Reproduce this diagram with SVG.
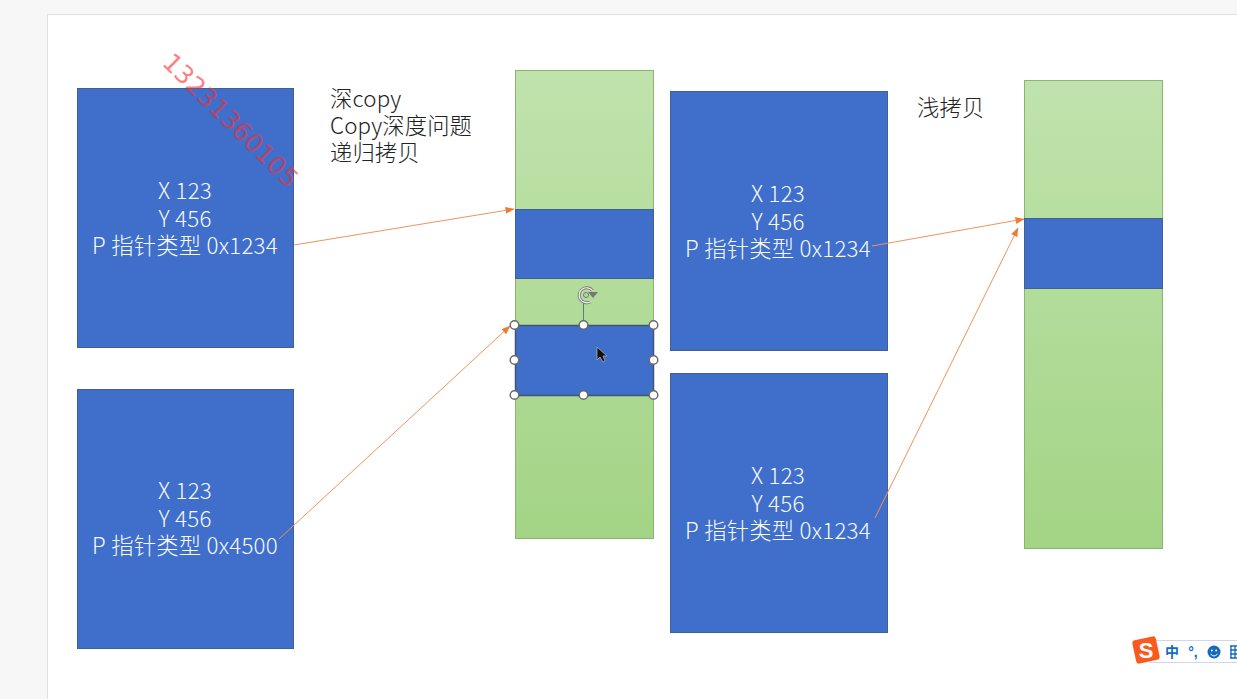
<svg xmlns="http://www.w3.org/2000/svg" width="1237" height="699" viewBox="0 0 1237 699">
<style>
.blue{fill:#3f6fcb;stroke:#41608f;stroke-width:1}
.in{fill:#f7f9fd;font:300 22.300px "Noto Sans CJK SC","Noto Sans",sans-serif;text-anchor:middle;letter-spacing:.25px}
.note{fill:#222;font:300 22.300px "Noto Sans CJK SC","Noto Sans",sans-serif;letter-spacing:.15px}
.col{stroke:#8ab56f;stroke-width:1}
.conn{fill:none;stroke:#f0935a;stroke-width:1;marker-end:url(#ah)}
.h{fill:#fff;stroke:#6a6a6a;stroke-width:1.500}
</style>
<defs>
<marker id="ah" markerWidth="9" markerHeight="7" refX="8.500" refY="3.500" orient="auto" markerUnits="userSpaceOnUse"><path d="M0 0L9 3.500L0 7Z" fill="#ed7d31"/></marker>
<linearGradient id="g" x1="0" y1="0" x2="0" y2="1"><stop offset="0" stop-color="#c0e3ad"/><stop offset="1" stop-color="#a3d485"/></linearGradient>
</defs>
<rect width="1237" height="699" fill="#f7f7f7"/>
<rect x="47.500" y="14.500" width="1195" height="690" fill="#fff" stroke="#e0e0e0"/>
<g id="col1"><rect class="col" x="515.500" y="70.500" width="138" height="468" fill="url(#g)"/></g>
<g id="col2"><rect class="col" x="1024.500" y="80.500" width="138" height="468" fill="url(#g)"/></g>
<g id="b1"><rect class="blue" x="77.500" y="88.500" width="216" height="259"/>
<text class="in"><tspan x="185" y="199">X 123</tspan><tspan x="185" y="227">Y 456</tspan><tspan x="185" y="254">P 指针类型 0x1234</tspan></text></g>
<g id="b2"><rect class="blue" x="77.500" y="389.500" width="216" height="259"/>
<text class="in"><tspan x="185" y="499">X 123</tspan><tspan x="185" y="527">Y 456</tspan><tspan x="185" y="554">P 指针类型 0x4500</tspan></text></g>
<g id="b3"><rect class="blue" x="670.500" y="91.500" width="217" height="259"/>
<text class="in"><tspan x="778" y="202">X 123</tspan><tspan x="778" y="230">Y 456</tspan><tspan x="778" y="257">P 指针类型 0x1234</tspan></text></g>
<g id="b4"><rect class="blue" x="670.500" y="373.500" width="217" height="259"/>
<text class="in"><tspan x="778" y="484">X 123</tspan><tspan x="778" y="512">Y 456</tspan><tspan x="778" y="539">P 指针类型 0x1234</tspan></text></g>
<g id="slot1"><rect class="blue" x="515.500" y="209.500" width="138" height="69"/></g>
<g id="slot2"><rect class="blue" x="515.500" y="325.500" width="138" height="70" style="stroke:#3f5573;stroke-width:1.500"/></g>
<g id="slot3"><rect class="blue" x="1024.500" y="218.500" width="138" height="70"/></g>
<g id="note1"><text class="note"><tspan x="330" y="107">深copy</tspan><tspan x="330" y="134">Copy深度问题</tspan><tspan x="330" y="161">递归拷贝</tspan></text></g>
<g id="note2"><text class="note" x="917" y="116">浅拷贝</text></g>
<g id="connectors">
<path class="conn" d="M294 245L514 209"/>
<path class="conn" d="M279 539L510 326"/>
<path class="conn" d="M872 246L1024 219"/>
<path class="conn" d="M875 518L1018 228"/>
</g>
<g id="selection">
<path d="M583.500 303V325" stroke="#5f7f70" fill="none"/>
<path d="M592.500 290.500A7.500 7.500 0 1 0 590 302" fill="none" stroke="#777" stroke-width="3"/>
<path d="M592.500 290.500A7.500 7.500 0 1 0 590 302" fill="none" stroke="#f2f2f2" stroke-width="1.200"/>
<circle cx="586" cy="295" r="2.500" fill="none" stroke="#777"/>
<path d="M588 292h10l-5 6z" fill="#777"/>
<circle class="h" cx="514.500" cy="325" r="4.300"/><circle class="h" cx="583.500" cy="325" r="4.300"/><circle class="h" cx="653.500" cy="325" r="4.300"/>
<circle class="h" cx="514.500" cy="360" r="4.300"/><circle class="h" cx="653.500" cy="360" r="4.300"/>
<circle class="h" cx="514.500" cy="395" r="4.300"/><circle class="h" cx="583.500" cy="395" r="4.300"/><circle class="h" cx="653.500" cy="395" r="4.300"/>
<path d="M597 347V360L600 357L603 362L605 361L603 356L607 356Z" fill="#111" stroke="#bbb" stroke-width=".7"/>
</g>
<g id="watermark"><text transform="translate(161 64) rotate(44.500)" fill="#ff2a2a" fill-opacity=".62" font-family="'DejaVu Sans',sans-serif" font-size="25" textLength="178" lengthAdjust="spacingAndGlyphs">13231360105</text></g>
<g id="ime">
<rect x="1150" y="640.500" width="95" height="22" fill="#fff" stroke="#cfd6ea"/>
<rect x="1134" y="638" width="24" height="24" rx="3" fill="#fa5a1e" transform="rotate(-12 1146 650)"/>
<text x="1146" y="658" fill="#fff" font-family="'Liberation Sans',sans-serif" font-weight="700" font-size="22" text-anchor="middle">S</text>
<text x="1172" y="657" fill="#1469c0" font-family="'Noto Sans CJK SC',sans-serif" font-size="14" font-weight="700" text-anchor="middle">中</text>
<text x="1193" y="657" fill="#1469c0" font-family="'Liberation Sans',sans-serif" font-size="14" font-weight="700" text-anchor="middle">°,</text>
<circle cx="1214" cy="652" r="6.500" fill="#1469c0"/>
<circle cx="1211.800" cy="650.500" r="1" fill="#fff"/><circle cx="1216.200" cy="650.500" r="1" fill="#fff"/>
<path d="M1210.500 654Q1214 658 1217.500 654" stroke="#fff" fill="none"/>
<path d="M1230 646h7M1230 650h7M1230 654h7M1230 658h7M1231 646v12M1235 646v12" stroke="#1469c0" stroke-width="1.300" fill="none"/>
</g>
</svg>
